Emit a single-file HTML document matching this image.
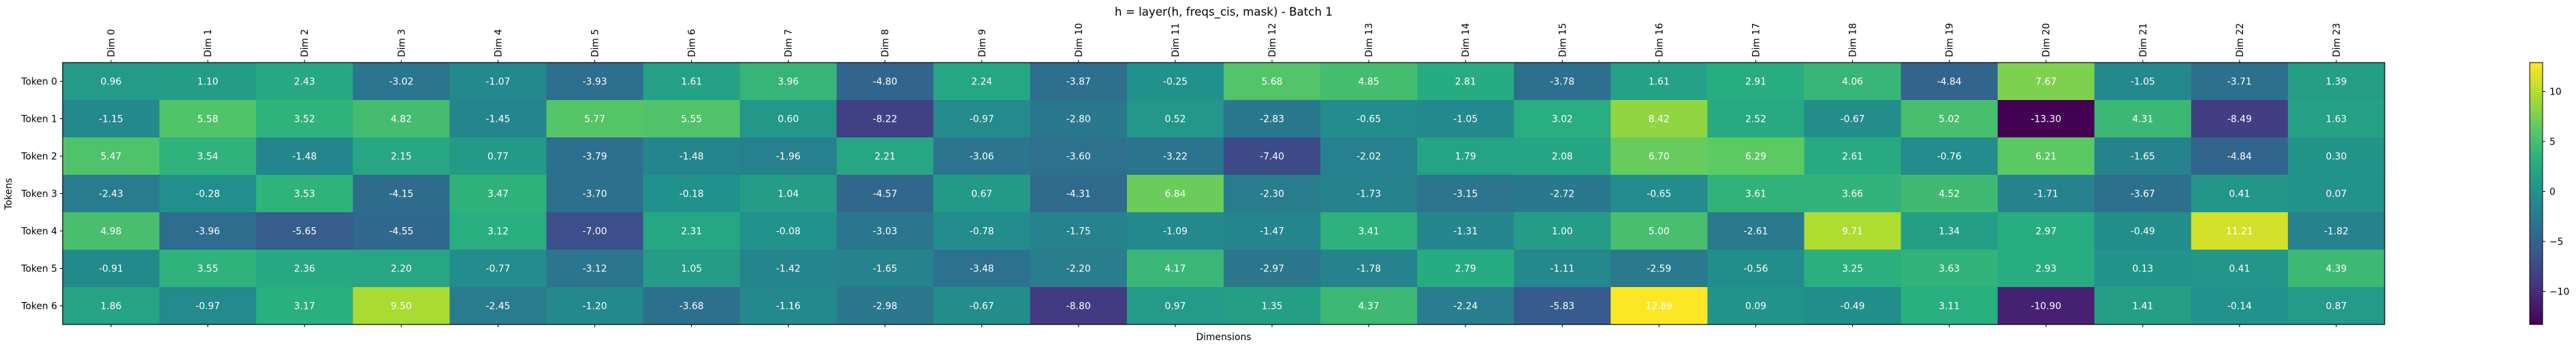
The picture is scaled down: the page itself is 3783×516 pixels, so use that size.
<!DOCTYPE html>
<html><head><meta charset="utf-8"><style>
body{margin:0;background:#fff;}
svg text{font-family:"DejaVu Sans","Liberation Sans",sans-serif;}
</style></head><body>
<svg id="chart" width="3783" height="511" xmlns="http://www.w3.org/2000/svg">
<text x="1797" y="23" text-anchor="middle" font-size="16.7" fill="#000">h = layer(h, freqs_cis, mask) - Batch 1</text>
<g id="cells"></g>
<g id="axes"></g>
<text x="1797" y="500" text-anchor="middle" font-size="13.9">Dimensions</text>
<text transform="translate(17,285) rotate(-90)" text-anchor="middle" font-size="13.9">Tokens</text>
<defs><linearGradient id="vir" x1="0" y1="1" x2="0" y2="0">
<stop offset="0" stop-color="#440154"/><stop offset="0.125" stop-color="#472d7b"/><stop offset="0.25" stop-color="#3b528b"/><stop offset="0.375" stop-color="#2c728e"/><stop offset="0.5" stop-color="#21918c"/><stop offset="0.625" stop-color="#28ae80"/><stop offset="0.75" stop-color="#5ec962"/><stop offset="0.875" stop-color="#addc30"/><stop offset="1" stop-color="#fde725"/>
</linearGradient></defs>
<rect x="3715" y="92" width="19" height="385" fill="url(#vir)" stroke="#000" stroke-width="1"/>
<g id="cbar"></g>
</svg>
<script>
const rowLabels = ["Token 0","Token 1","Token 2","Token 3","Token 4","Token 5","Token 6"];
const colLabels = ["Dim 0","Dim 1","Dim 2","Dim 3","Dim 4","Dim 5","Dim 6","Dim 7","Dim 8","Dim 9","Dim 10","Dim 11","Dim 12","Dim 13","Dim 14","Dim 15","Dim 16","Dim 17","Dim 18","Dim 19","Dim 20","Dim 21","Dim 22","Dim 23"];
const row0 = [0.96,1.10,2.43,-3.02,-1.07,-3.93,1.61,3.96,-4.80,2.24,-3.87,-0.25,5.68,4.85,2.81,-3.78,1.61,2.91,4.06,-4.84,7.67,-1.05,-3.71,1.39];
const row1 = [-1.15,5.58,3.52,4.82,-1.45,5.77,5.55,0.60,-8.22,-0.97,-2.80,0.52,-2.83,-0.65,-1.05,3.02,8.42,2.52,-0.67,5.02,-13.30,4.31,-8.49,1.63];
const row2 = [5.47,3.54,-1.48,2.15,0.77,-3.79,-1.48,-1.96,2.21,-3.06,-3.60,-3.22,-7.40,-2.02,1.79,2.08,6.70,6.29,2.61,-0.76,6.21,-1.65,-4.84,0.30];
const row3 = [-2.43,-0.28,3.53,-4.15,3.47,-3.70,-0.18,1.04,-4.57,0.67,-4.31,6.84,-2.30,-1.73,-3.15,-2.72,-0.65,3.61,3.66,4.52,-1.71,-3.67,0.41,0.07];
const row4 = [4.98,-3.96,-5.65,-4.55,3.12,-7.00,2.31,-0.08,-3.03,-0.78,-1.75,-1.09,-1.47,3.41,-1.31,1.00,5.00,-2.61,9.71,1.34,2.97,-0.49,11.21,-1.82];
const row5 = [-0.91,3.55,2.36,2.20,-0.77,-3.12,1.05,-1.42,-1.65,-3.48,-2.20,4.17,-2.97,-1.78,2.79,-1.11,-2.59,-0.56,3.25,3.63,2.93,0.13,0.41,4.39];
const row6 = [1.86,-0.97,3.17,9.50,-2.45,-1.20,-3.68,-1.16,-2.98,-0.67,-8.80,0.97,1.35,4.37,-2.24,-5.83,12.89,0.09,-0.49,3.11,-10.90,1.41,-0.14,0.87];
const cbarTicks = [10,5,0,-5,-10];
const rows = [row0,row1,row2,row3,row4,row5,row6];

const NS="http://www.w3.org/2000/svg";
const X0=92, X1=3502, Y0=92, Y1=477;
const all=rows.flat();
const vmin=Math.min(...all), vmax=Math.max(...all);
const cw=(X1-X0)/colLabels.length, ch=(Y1-Y0)/rowLabels.length;
const xPos=i=>X0+i*cw, yPos=j=>Y0+j*ch;
const cbY=v=>Y1-(v-vmin)/(vmax-vmin)*(Y1-Y0);
const stops=["#440154","#472d7b","#3b528b","#2c728e","#21918c","#28ae80","#5ec962","#addc30","#fde725"];
function hex(h){return [1,3,5].map(k=>parseInt(h.substr(k,2),16));}
function viridis(t){t=Math.max(0,Math.min(1,t));const p=t*8,i=Math.min(7,Math.floor(p)),f=p-i;const a=hex(stops[i]),b=hex(stops[i+1]);return "rgb("+a.map((c,k)=>Math.round(c+(b[k]-c)*f)).join(",")+")";}
function mk(tag,attrs,parent,txt){const e=document.createElementNS(NS,tag);for(const k in attrs)e.setAttribute(k,attrs[k]);if(txt!==undefined)e.textContent=txt;parent.appendChild(e);return e;}
const cells=document.getElementById('cells'), axes=document.getElementById('axes'), cbar=document.getElementById('cbar');
rows.forEach((r,j)=>r.forEach((v,i)=>{
  const rc=mk('rect',{x:xPos(i),y:yPos(j),width:cw+0.5,height:ch+0.5,fill:viridis((v-vmin)/(vmax-vmin))},cells);
  
  
  const t=mk('text',{x:xPos(i)+cw/2,y:yPos(j)+ch/2+5,'text-anchor':'middle','font-size':'13.9',fill:'#fff'},cells,v.toFixed(2));
  
  
}));
mk('rect',{x:X0,y:Y0,width:X1-X0,height:Y1-Y0,fill:'none',stroke:'#000','stroke-width':1.2},axes);
colLabels.forEach((l,i)=>{
  const x=xPos(i)+cw/2;
  mk('line',{x1:x,y1:Y0,x2:x,y2:Y0-4,stroke:'#000'},axes);
  mk('line',{x1:x,y1:Y1,x2:x,y2:Y1+4,stroke:'#000'},axes);
  const t=mk('text',{transform:`translate(${x+5},${Y0-8}) rotate(-90)`,'font-size':'13.9'},axes,l);
  
  
});
rowLabels.forEach((l,j)=>{
  const y=yPos(j)+ch/2;
  mk('line',{x1:X0,y1:y,x2:X0-4,y2:y,stroke:'#000'},axes);
  const t=mk('text',{x:X0-8,y:y+5,'text-anchor':'end','font-size':'13.9'},axes,l);
  
  
});
cbarTicks.forEach(v=>{
  const y=cbY(v);
  mk('line',{x1:3734,y1:y,x2:3738,y2:y,stroke:'#000'},cbar);
  const t=mk('text',{x:3744,y:y+5,'font-size':'13.9'},cbar,String(v).replace('-','\u2212'));
  
  
});
</script>
</body></html>
